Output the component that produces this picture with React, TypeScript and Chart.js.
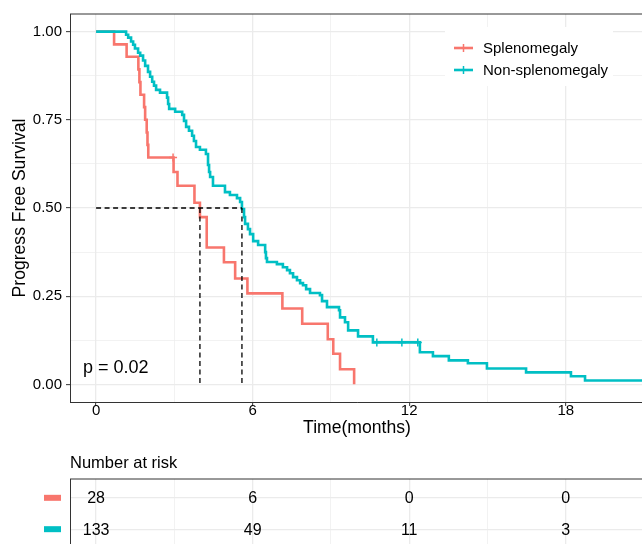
import React, { useEffect, useRef } from "react";
import { Chart, registerables } from "chart.js";

Chart.register(...registerables);

const FONT = '"Liberation Sans", Arial, Helvetica, sans-serif';

const groupNames = ["Splenomegaly", "Non-splenomegaly"];
const groupColors = ["#F8766D", "#00BFC4"];

// Kaplan-Meier steps (time in months, survival after the drop)
const redTimes = [0, 0.69, 1.17, 1.62, 1.66, 1.7, 1.84, 1.88, 1.94, 1.97, 2.0, 2.97, 3.12, 3.77, 3.98, 4.24, 4.9, 5.33, 5.8, 7.14, 7.9, 8.88, 9.09, 9.35, 9.89];
const redSurv = [1, 0.964, 0.929, 0.893, 0.857, 0.821, 0.786, 0.75, 0.714, 0.679, 0.643, 0.602, 0.563, 0.515, 0.474, 0.388, 0.346, 0.3, 0.258, 0.215, 0.172, 0.128, 0.087, 0.043, 0];

const tealTimes = [0, 1.15, 1.23, 1.34, 1.42, 1.49, 1.61, 1.69, 1.8, 1.88, 1.99, 2.07, 2.15, 2.22, 2.3, 2.45, 2.72, 2.76, 2.8, 3.03, 3.3, 3.37, 3.45, 3.56, 3.68, 3.75, 3.83, 3.98, 4.21, 4.29, 4.33, 4.37, 4.48, 4.94, 5.13, 5.4, 5.52, 5.59, 5.67, 5.71, 5.82, 5.9, 6.02, 6.21, 6.48, 6.51, 6.55, 6.93, 7.16, 7.32, 7.43, 7.55, 7.7, 7.82, 7.93, 8.05, 8.2, 8.58, 8.66, 8.85, 9.31, 9.35, 9.54, 9.66, 10.04, 10.61, 12.41, 12.91, 13.52, 14.25, 14.98, 16.48, 18.2, 18.74, 22];
const tealSurv = [1, 0.991, 0.983, 0.972, 0.963, 0.952, 0.94, 0.932, 0.918, 0.903, 0.886, 0.872, 0.858, 0.847, 0.835, 0.827, 0.813, 0.795, 0.781, 0.773, 0.764, 0.747, 0.73, 0.719, 0.705, 0.69, 0.673, 0.665, 0.653, 0.622, 0.602, 0.588, 0.563, 0.545, 0.537, 0.528, 0.517, 0.497, 0.474, 0.455, 0.44, 0.426, 0.406, 0.395, 0.375, 0.358, 0.347, 0.341, 0.332, 0.324, 0.315, 0.304, 0.295, 0.287, 0.281, 0.27, 0.259, 0.253, 0.236, 0.219, 0.21, 0.19, 0.176, 0.153, 0.136, 0.119, 0.091, 0.08, 0.068, 0.06, 0.045, 0.034, 0.023, 0.011, 0.011];

const redCensorTimes = [2.95];
const redCensorSurv = [0.643];
const tealCensorTimes = [10.76, 11.72, 12.33];
const tealCensorSurv = [0.119, 0.119, 0.119];

const xGridTicks = [0, 3, 6, 9, 12, 15, 18, 21];
const xMajorTicks = [0, 6, 12, 18];
const yGridTicks = [0, 0.125, 0.25, 0.375, 0.5, 0.625, 0.75, 0.875, 1];
const yMajorTicks = [0, 0.25, 0.5, 0.75, 1];

const riskTimes = [0, 6, 12, 18];
const riskRed = [28, 6, 0, 0];
const riskTeal = [133, 49, 11, 3];

const pValueText = "p = 0.02";
const xTitle = "Time(months)";
const yTitle = "Progress Free Survival";
const riskTitle = "Number at risk";

const pts = (t: number[], s: number[]) => t.map((v, i) => ({ x: v, y: s[i] }));
const medianOf = (t: number[], s: number[]) => {
  for (let i = 0; i < s.length; i++) if (s[i] <= 0.5) return t[i];
  return NaN;
};

const GRID = "#EBEBEB";
const BORDER = "#333333";

export default function App() {
  const mainRef = useRef<HTMLCanvasElement>(null);
  const tableRef = useRef<HTMLCanvasElement>(null);

  useEffect(() => {
    const mR = medianOf(redTimes, redSurv);
    const mT = medianOf(tealTimes, tealSurv);
    const dash = {
      borderColor: "#000",
      borderDash: [5, 3.5],
      borderWidth: 1.3,
      pointRadius: 0,
      fill: false,
      order: 0,
    };
    const isMajorX = (v: number) => xMajorTicks.includes(v);
    const isMajorY = (v: number) => yMajorTicks.includes(v);

    const mainChart = new Chart(mainRef.current!, {
      type: "line",
      data: {
        datasets: [
          { ...dash, data: [{ x: 0, y: 0.5 }, { x: Math.max(mR, mT), y: 0.5 }] },
          { ...dash, data: [{ x: mR, y: 0.5 }, { x: mR, y: 0 }] },
          { ...dash, data: [{ x: mT, y: 0.5 }, { x: mT, y: 0 }] },
          {
            data: pts(redCensorTimes, redCensorSurv),
            showLine: false,
            pointStyle: "cross",
            pointRadius: 4,
            pointBorderWidth: 1.5,
            pointBorderColor: groupColors[0],
            order: 1,
          },
          {
            data: pts(tealCensorTimes, tealCensorSurv),
            showLine: false,
            pointStyle: "cross",
            pointRadius: 4,
            pointBorderWidth: 1.5,
            pointBorderColor: groupColors[1],
            order: 1,
          },
          {
            label: groupNames[1],
            data: pts(tealTimes, tealSurv),
            stepped: true,
            borderColor: groupColors[1],
            borderWidth: 2.6,
            pointRadius: 0,
            order: 2,
          },
          {
            label: groupNames[0],
            data: pts(redTimes, redSurv),
            stepped: true,
            borderColor: groupColors[0],
            borderWidth: 2.6,
            pointRadius: 0,
            order: 3,
          },
        ],
      },
      options: {
        animation: false,
        responsive: false,
        events: [],
        layout: { padding: { top: 14, right: 16, left: 0, bottom: 0 } },
        plugins: { legend: { display: false }, tooltip: { enabled: false } },
        scales: {
          x: {
            type: "linear",
            min: -1,
            max: 21,
            afterBuildTicks: (s: any) => {
              s.ticks = xGridTicks.map((v) => ({ value: v }));
            },
            afterFit: (s: any) => {
              s.height = 38;
            },
            ticks: {
              autoSkip: false,
              maxRotation: 0,
              padding: -4,
              color: "#000",
              font: { family: FONT, size: 15 },
              callback: (v: any) => (isMajorX(v) ? String(v) : ""),
            },
            grid: {
              color: GRID,
              lineWidth: (c: any) => (c.tick && isMajorX(c.tick.value) ? 1.3 : 0.65),
              tickLength: 4,
              tickWidth: 1,
              tickColor: (c: any) => (c.tick && isMajorX(c.tick.value) ? BORDER : "rgba(0,0,0,0)"),
            },
            border: { display: true, color: BORDER, width: 1 },
          },
          y: {
            type: "linear",
            min: -0.05,
            max: 1.05,
            afterBuildTicks: (s: any) => {
              s.ticks = yGridTicks.map((v) => ({ value: v }));
            },
            afterFit: (s: any) => {
              s.width = 70;
            },
            ticks: {
              autoSkip: false,
              padding: 4,
              color: "#000",
              font: { family: FONT, size: 15 },
              callback: (v: any) => (isMajorY(v) ? Number(v).toFixed(2) : ""),
            },
            grid: {
              color: GRID,
              lineWidth: (c: any) => (c.tick && isMajorY(c.tick.value) ? 1.3 : 0.65),
              tickLength: 4,
              tickWidth: 1,
              tickColor: (c: any) => (c.tick && isMajorY(c.tick.value) ? BORDER : "rgba(0,0,0,0)"),
            },
            border: { display: true, color: BORDER, width: 1 },
          },
        },
      },
      plugins: [
        {
          id: "decor",
          afterDraw(chart: any) {
            const { ctx, chartArea: a } = chart;
            const xs = chart.scales.x;
            const ys = chart.scales.y;
            ctx.save();
            // top border
            ctx.strokeStyle = BORDER;
            ctx.lineWidth = 1;
            ctx.beginPath();
            ctx.moveTo(a.left, a.top);
            ctx.lineTo(a.right, a.top);
            ctx.stroke();

            // legend box
            ctx.fillStyle = "#fff";
            ctx.fillRect(445, 27, 168, 59);
            const rows = [48, 70];
            groupNames.forEach((name, i) => {
              const y = rows[i];
              ctx.strokeStyle = groupColors[i];
              ctx.lineWidth = 2.6;
              ctx.beginPath();
              ctx.moveTo(454, y);
              ctx.lineTo(473, y);
              ctx.stroke();
              ctx.lineWidth = 1.5;
              ctx.beginPath();
              ctx.moveTo(463.5, y - 4);
              ctx.lineTo(463.5, y + 4);
              ctx.stroke();
              ctx.fillStyle = "#000";
              ctx.font = `15px ${FONT}`;
              ctx.textAlign = "left";
              ctx.textBaseline = "middle";
              ctx.fillText(name, 483, y + 0.5);
            });

            // p-value
            ctx.fillStyle = "#000";
            ctx.font = `18px ${FONT}`;
            ctx.textAlign = "left";
            ctx.textBaseline = "middle";
            ctx.fillText(pValueText, xs.getPixelForValue(-0.5), ys.getPixelForValue(0.045));

            // axis titles
            ctx.font = `17.6px ${FONT}`;
            ctx.textAlign = "center";
            ctx.fillText(xTitle, (a.left + a.right) / 2, 428);
            ctx.translate(20, (a.top + a.bottom) / 2);
            ctx.rotate(-Math.PI / 2);
            ctx.fillText(yTitle, 0, 0);
            ctx.restore();
          },
        },
      ],
    } as any);

    const tableChart = new Chart(tableRef.current!, {
      type: "scatter",
      data: { datasets: [] },
      options: {
        animation: false,
        responsive: false,
        events: [],
        layout: { padding: { top: 39, right: 16, left: 0, bottom: 0 } },
        plugins: { legend: { display: false }, tooltip: { enabled: false } },
        scales: {
          x: {
            type: "linear",
            min: -1,
            max: 21,
            afterBuildTicks: (s: any) => {
              s.ticks = xGridTicks.map((v) => ({ value: v }));
            },
            afterFit: (s: any) => {
              s.height = 12;
            },
            ticks: { display: false },
            grid: {
              color: GRID,
              lineWidth: (c: any) => (c.tick && isMajorX(c.tick.value) ? 1.3 : 0.65),
              drawTicks: false,
            },
            border: { display: false },
          },
          y: {
            type: "linear",
            min: 0.4,
            max: 2.6,
            reverse: true,
            afterBuildTicks: (s: any) => {
              s.ticks = [1, 2].map((v) => ({ value: v }));
            },
            afterFit: (s: any) => {
              s.width = 70;
            },
            ticks: { display: false },
            grid: { color: GRID, lineWidth: 1.3, drawTicks: false },
            border: { display: true, color: BORDER, width: 1 },
          },
        },
      },
      plugins: [
        {
          id: "risk",
          afterDraw(chart: any) {
            const { ctx, chartArea: a } = chart;
            const xs = chart.scales.x;
            const ys = chart.scales.y;
            ctx.save();
            ctx.strokeStyle = BORDER;
            ctx.lineWidth = 1;
            ctx.beginPath();
            ctx.moveTo(a.left, a.top);
            ctx.lineTo(a.right, a.top);
            ctx.stroke();

            ctx.fillStyle = "#000";
            ctx.font = `16.5px ${FONT}`;
            ctx.textAlign = "left";
            ctx.textBaseline = "middle";
            ctx.fillText(riskTitle, a.left, 23);

            const series = [riskRed, riskTeal];
            series.forEach((vals, i) => {
              const y = ys.getPixelForValue(i + 1);
              ctx.fillStyle = groupColors[i];
              ctx.fillRect(44, y - 3, 17, 6);
              ctx.fillStyle = "#000";
              ctx.font = `16px ${FONT}`;
              ctx.textAlign = "center";
              vals.forEach((v, j) => {
                ctx.fillText(String(v), xs.getPixelForValue(riskTimes[j]), y + 1);
              });
            });
            ctx.restore();
          },
        },
      ],
    } as any);

    return () => {
      mainChart.destroy();
      tableChart.destroy();
    };
  }, []);

  return (
    <div
      style={{
        position: "fixed",
        left: 0,
        top: 0,
        width: 642,
        height: 544,
        overflow: "hidden",
        background: "#fff",
      }}
    >
      <canvas ref={mainRef} width={660} height={440} style={{ position: "absolute", left: 0, top: 0 }} />
      <canvas ref={tableRef} width={660} height={120} style={{ position: "absolute", left: 0, top: 440 }} />
    </div>
  );
}
